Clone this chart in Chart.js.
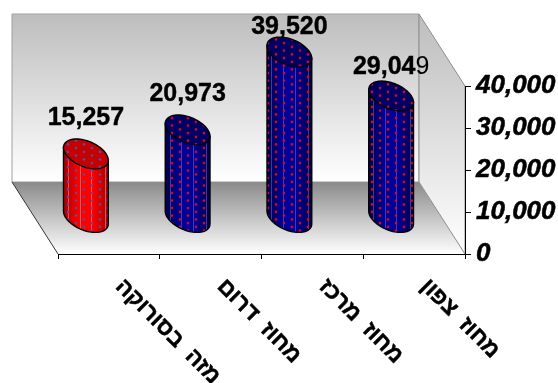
<!DOCTYPE html>
<html lang="he">
<head>
    <meta charset="UTF-8">
    <title>מחוזות</title>
    <script src="https://cdn.jsdelivr.net/npm/chart.js"></script>
    <style>
        html, body { margin: 0; padding: 0; background: #fff; }
        canvas { display: block; }
    </style>
</head>
<body>
    <canvas id="regionChart" width="558" height="383"></canvas>

    <script>
// Chart data
const categories = ['מזה בסורוקה', 'מחוז דרום', 'מחוז מרכז', 'מחוז צפון'];
const visits = [15257, 20973, 39520, 29049];
const yTicks = [0, 10000, 20000, 30000, 40000];

// How far the 3D box recedes from the front axes
const DEPTH_X = 46;
const DEPTH_Y = 72;
const FONT = '"Liberation Sans", Arial, sans-serif';

const RED_THEME = { edge: '#a80000', mid: '#ff0000', top: '#c40000', dot: '#5a4aa0', streak: 'rgba(255,190,190,0.45)' };
const BLUE_THEME = { edge: '#000048', mid: '#000098', top: '#000064', dot: '#e00020', streak: 'rgba(130,130,230,0.45)' };

function dotPattern(ctx, color) {
    const tile = document.createElement('canvas');
    tile.width = 16;
    tile.height = 15;
    const t = tile.getContext('2d');
    t.fillStyle = color;
    [[4, 1.9], [12, 5.6], [4, 9.4], [12, 13.1]].forEach(function (p) {
        t.beginPath();
        t.arc(p[0], p[1], 1.3, 0, Math.PI * 2);
        t.fill();
    });
    return ctx.createPattern(tile, 'repeat');
}

// Walls and floor of the 3D box, painted under the axes
const boxPlugin = {
    id: 'box',
    beforeDraw(chart) {
        const ctx = chart.ctx;
        const { left, right, top, bottom } = chart.chartArea;
        const backL = left - DEPTH_X, backR = right - DEPTH_X;
        const backB = bottom - DEPTH_Y, backT = top - DEPTH_Y;

        function poly(points, fill, stroke) {
            ctx.beginPath();
            points.forEach(function (p, i) { i ? ctx.lineTo(p[0], p[1]) : ctx.moveTo(p[0], p[1]); });
            ctx.closePath();
            ctx.fillStyle = fill;
            ctx.fill();
            if (stroke) {
                ctx.strokeStyle = stroke;
                ctx.lineWidth = 1;
                ctx.stroke();
            }
        }
        function vertical(y0, y1, c0, c1) {
            const g = ctx.createLinearGradient(0, y0, 0, y1);
            g.addColorStop(0, c0);
            g.addColorStop(1, c1);
            return g;
        }

        ctx.save();
        poly([[backL, backT], [backR, backT], [backR, backB], [backL, backB]], vertical(backT, backB, '#bdbdbd', '#ffffff'), '#a0a0a0');
        poly([[backL, backB], [backR, backB], [right, bottom], [left, bottom]], vertical(backB, bottom, '#8a8a8a', '#ffffff'));
        poly([[backR, backT], [right, top], [right, bottom], [backR, backB]], vertical(backT, bottom, '#bdbdbd', '#ffffff'), '#8c8c8c');
        ctx.strokeStyle = '#333333';
        ctx.lineWidth = 1;
        ctx.beginPath();
        ctx.moveTo(backL, backB);
        ctx.lineTo(left, bottom);
        ctx.stroke();
        ctx.restore();
    }
};

// Draws each bar element as a cylinder standing halfway into the box
const cylinderPlugin = {
    id: 'cylinders',
    afterDatasetsDraw(chart, args, opts) {
        const ctx = chart.ctx;
        chart.getDatasetMeta(0).data.forEach(function (bar, i) {
            const theme = i === 0 ? RED_THEME : BLUE_THEME;
            const half = bar.width / 2;
            const cx = bar.x - DEPTH_X / 2;
            const topY = bar.y - DEPTH_Y / 2;
            const baseY = bar.base - DEPTH_Y / 2;
            const dy = half * 0.667;
            const dx = dy * DEPTH_X / DEPTH_Y;
            const a = Math.sqrt(half * half - dx * dx);
            const t0 = Math.atan2(dx, a);
            const pt = function (y, t) {
                return [cx + a * Math.cos(t) + dx * Math.sin(t), y + dy * Math.sin(t)];
            };

            ctx.save();

            // side of the cylinder
            const side = new Path2D();
            let p = pt(topY, t0);
            side.moveTo(p[0], p[1]);
            for (let s = 0; s <= 40; s++) {
                p = pt(baseY, t0 + Math.PI * s / 40);
                side.lineTo(p[0], p[1]);
            }
            p = pt(topY, t0 + Math.PI);
            side.lineTo(p[0], p[1]);
            side.closePath();

            const g = ctx.createLinearGradient(cx - half, 0, cx + half, 0);
            g.addColorStop(0, theme.edge);
            g.addColorStop(0.35, theme.mid);
            g.addColorStop(0.65, theme.mid);
            g.addColorStop(1, theme.edge);
            ctx.fillStyle = g;
            ctx.fill(side);

            ctx.save();
            ctx.clip(side);
            ctx.strokeStyle = theme.streak;
            ctx.lineWidth = 1;
            [0.1, 0.36, 0.62, 0.92].forEach(function (f) {
                const x = Math.round(cx - half + f * bar.width) + 0.5;
                ctx.beginPath();
                ctx.moveTo(x, topY - dy);
                ctx.lineTo(x, baseY + dy);
                ctx.stroke();
            });
            ctx.fillStyle = dotPattern(ctx, theme.dot);
            ctx.fillRect(cx - half, topY - dy, bar.width, baseY - topY + dy * 2);
            ctx.restore();

            ctx.strokeStyle = '#000000';
            ctx.lineWidth = 1.4;
            ctx.stroke(side);

            // cap
            const cap = new Path2D();
            for (let s = 0; s < 72; s++) {
                p = pt(topY, Math.PI * s / 36);
                s ? cap.lineTo(p[0], p[1]) : cap.moveTo(p[0], p[1]);
            }
            cap.closePath();
            ctx.fillStyle = theme.top;
            ctx.fill(cap);
            ctx.save();
            ctx.clip(cap);
            ctx.fillStyle = dotPattern(ctx, theme.dot);
            ctx.fillRect(cx - half, topY - dy, bar.width, dy * 2);
            ctx.restore();
            ctx.stroke(cap);

            // value label above the cap, last digit of the final bar is lighter
            const text = visits[i].toLocaleString('en-US');
            const y = topY - dy - opts.lift[i];
            ctx.fillStyle = '#000000';
            ctx.strokeStyle = '#000000';
            ctx.lineWidth = 0.4;
            ctx.textBaseline = 'middle';
            ctx.textAlign = 'left';
            ctx.font = 'bold 25px ' + FONT;
            const width = ctx.measureText(text).width;
            let x = cx - width / 2;
            if (i === opts.lightLastDigit) {
                const head = text.slice(0, -1);
                ctx.fillText(head, x, y);
                ctx.strokeText(head, x, y);
                x += ctx.measureText(head).width;
                ctx.font = '25px ' + FONT;
                ctx.fillText(text.slice(-1), x, y);
            } else {
                ctx.fillText(text, x, y);
                ctx.strokeText(text, x, y);
            }
            ctx.restore();
        });
    },
    // category names run downward to the right, starting under each bar
    afterDraw(chart) {
        const ctx = chart.ctx;
        const scale = chart.scales.x;
        ctx.save();
        ctx.fillStyle = '#000000';
        ctx.strokeStyle = '#000000';
        ctx.lineWidth = 0.5;
        ctx.font = 'bold 22.5px ' + FONT;
        ctx.wordSpacing = '6px';
        ctx.textAlign = 'left';
        ctx.textBaseline = 'middle';
        categories.forEach(function (name, i) {
            ctx.save();
            ctx.translate(scale.getPixelForTick(i) + 10, scale.top + 29);
            ctx.rotate(Math.PI / 4);
            ctx.fillText(name, 0, 0);
            ctx.strokeText(name, 0, 0);
            ctx.restore();
        });
        ctx.restore();
    }
};

new Chart(document.getElementById('regionChart'), {
    type: 'bar',
    data: {
        labels: categories,
        datasets: [{
            data: visits,
            backgroundColor: 'transparent',
            borderWidth: 0,
            categoryPercentage: 1,
            barPercentage: 0.44
        }]
    },
    plugins: [boxPlugin, cylinderPlugin],
    options: {
        responsive: false,
        animation: false,
        events: [],
        layout: { padding: { left: 58, top: 86 } },
        plugins: {
            legend: { display: false },
            tooltip: { enabled: false },
            cylinders: { lift: [21, 21, 10, 14], lightLastDigit: 3 }
        },
        scales: {
            x: {
                afterFit(scale) { scale.height = 129; },
                border: { color: '#000000', width: 1 },
                grid: { drawOnChartArea: false, color: '#000000', tickLength: 5 },
                ticks: { display: false }
            },
            y: {
                position: 'right',
                min: 0,
                max: 40000,
                afterFit(scale) { scale.width = 93; },
                afterBuildTicks(scale) { scale.ticks = yTicks.map(function (v) { return { value: v }; }); },
                border: { color: '#000000', width: 1 },
                grid: { drawOnChartArea: false, color: '#000000', tickLength: 6 },
                ticks: {
                    padding: 5,
                    color: '#000000',
                    textStrokeColor: '#000000',
                    textStrokeWidth: 0.5,
                    font: { family: FONT, size: 26, weight: 'bold', style: 'italic' },
                    callback(v) { return v.toLocaleString('en-US'); }
                }
            }
        }
    }
});
    </script>
</body>
</html>
